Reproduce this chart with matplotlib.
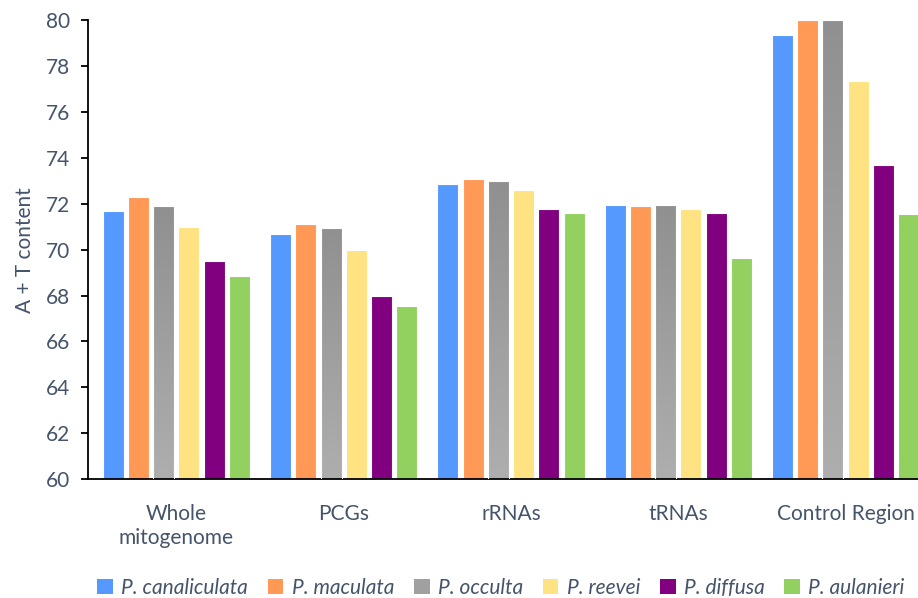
"""A + T content of mitochondrial regions across six Pomacea species."""

import matplotlib

matplotlib.use("Agg")
import matplotlib.pyplot as plt
import numpy as np
from matplotlib.patches import Patch

regions = ["Whole\nmitogenome", "PCGs", "rRNAs", "tRNAs", "Control Region"]
species = [
    "P. canaliculata",
    "P. maculata",
    "P. occulta",
    "P. reevei",
    "P. diffusa",
    "P. aulanieri",
]

canaliculata = [71.68, 70.70, 72.87, 71.93, 79.35]
maculata = [72.30, 71.13, 73.09, 71.90, 80.00]
occulta = [71.91, 70.96, 73.00, 71.96, 80.00]
reevei = [70.97, 69.97, 72.62, 71.78, 77.36]
diffusa = [69.49, 67.98, 71.78, 71.58, 73.70]
aulanieri = [68.84, 67.55, 71.58, 69.62, 71.55]

series = [canaliculata, maculata, occulta, reevei, diffusa, aulanieri]
colors = ["#5599FF", "#FF9955", "#A6A6A6", "#FFE281", "#800080", "#92D160"]
text_color = "#44546A"
fs = 15

plt.rcParams["font.family"] = ["Lato", "DejaVu Sans"]

fig = plt.figure(figsize=(9.18, 5.98), dpi=100)
ax = fig.add_axes([88 / 918, 1 - 479 / 598, 830 / 918, (479 - 20.3) / 598])

x = np.arange(len(regions))
width = 0.1255
step = 0.151
offsets = (np.arange(len(series)) - (len(series) - 1) / 2) * step

# vertical grey gradient used for the occulta bars
gradient = np.linspace(0, 1, 256).reshape(-1, 1)
gray_cmap = matplotlib.colors.LinearSegmentedColormap.from_list(
    "grey_fade", ["#AEAEAE", "#909090"]
)

for i, (vals, col) in enumerate(zip(series, colors)):
    bars = ax.bar(
        x + offsets[i],
        vals,
        width=width,
        bottom=0,
        color=col,
        edgecolor="white",
        linewidth=0.8,
        zorder=2,
    )
    if i == 2:
        for b in bars:
            x0, y0 = b.get_x(), 60
            x1, y1 = x0 + b.get_width(), b.get_height()
            im = ax.imshow(
                gradient,
                cmap=gray_cmap,
                aspect="auto",
                extent=(x0, x1, y1, y0),
                origin="upper",
                zorder=2.5,
            )
            im.set_clip_path(b)
            # redraw the white outline on top of the gradient
            ax.bar(
                b.get_x() + b.get_width() / 2,
                b.get_height(),
                width=b.get_width(),
                fill=False,
                edgecolor="white",
                linewidth=0.8,
                zorder=3,
            )

ax.set_xlim(-0.528, 4.433)
ax.set_ylim(60, 80)
ax.set_yticks(np.arange(60, 81, 2))
ax.set_xticks(x)
ax.set_xticklabels(regions, fontsize=fs, color=text_color, linespacing=1.25)
ax.tick_params(axis="x", length=0, pad=18)
ax.tick_params(
    axis="y", direction="out", length=5, width=1.3, labelsize=fs,
    labelcolor=text_color, pad=8,
)
ax.set_ylabel("A + T content", fontsize=fs, color=text_color, labelpad=8)

for side in ("top", "right"):
    ax.spines[side].set_visible(False)
ax.spines["left"].set_linewidth(1.3)
ax.spines["bottom"].set_linewidth(1.3)

handles = [Patch(facecolor=c, edgecolor="none") for c in colors]
handles[2] = Patch(facecolor="#A0A0A0", edgecolor="none")
fig.legend(
    handles,
    species,
    loc="center",
    bbox_to_anchor=(501 / 918, 1 - 588 / 598),
    ncol=6,
    frameon=False,
    handlelength=0.75,
    handleheight=0.75,
    handletextpad=0.4,
    columnspacing=0.95,
    prop={"style": "italic", "size": fs},
    labelcolor=text_color,
)

fig.savefig("out.png", dpi=100)
